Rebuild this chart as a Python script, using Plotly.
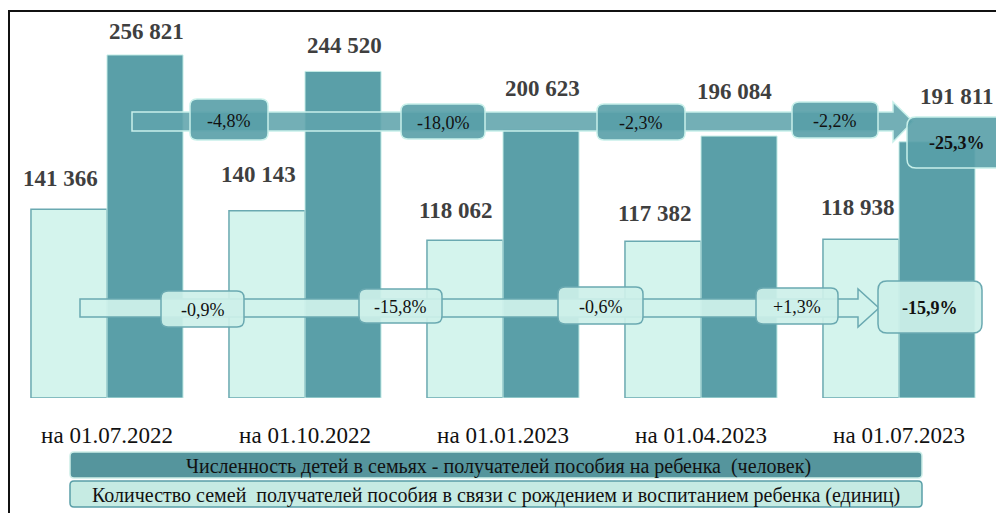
import plotly.graph_objects as go

# ---------------- data ----------------
dates = ["на 01.07.2022", "на 01.10.2022", "на 01.01.2023", "на 01.04.2023", "на 01.07.2023"]
families = [141366, 140143, 118062, 117382, 118938]      # light bars (единиц)
children = [256821, 244520, 200623, 196084, 191811]      # dark bars (человек)
children_changes = ["-4,8%", "-18,0%", "-2,3%", "-2,2%"]
children_total = "-25,3%"
families_changes = ["-0,9%", "-15,8%", "-0,6%", "+1,3%"]
families_total = "-15,9%"
legend_children = "Численность детей в семьях - получателей пособия на ребенка  (человек)"
legend_families = "Количество семей  получателей пособия в связи с рождением и воспитанием ребенка (единиц)"

# ---------------- layout geometry ----------------
OFF = 8                      # page body margin offsets the figure
W, H = 996, 505
ML, MR, MT, MB = 0, 6, 12, 115
PW, PH = W - ML - MR, H - MT - MB
YMAX = 283000

def fmt(v):
    return f"{v:,}".replace(",", " ")

def P(px, py):
    """screen pixel -> paper coords"""
    fx, fy = px - OFF, py - OFF
    return (fx - ML) / PW, (H - MB - fy) / PH

def rrect(x0, y0, x1, y1, r):
    def pt(px, py):
        a, b = P(px, py)
        return f"{a:.5f},{b:.5f}"
    s = f"M {pt(x0 + r, y0)} L {pt(x1 - r, y0)} Q {pt(x1, y0)} {pt(x1, y0 + r)} "
    s += f"L {pt(x1, y1 - r)} Q {pt(x1, y1)} {pt(x1 - r, y1)} "
    s += f"L {pt(x0 + r, y1)} Q {pt(x0, y1)} {pt(x0, y1 - r)} "
    s += f"L {pt(x0, y0 + r)} Q {pt(x0, y0)} {pt(x0 + r, y0)} Z"
    return s

def arrow(x0, ys0, ys1, xh, yh0, yh1, xt):
    def pt(px, py):
        a, b = P(px, py)
        return f"{a:.5f},{b:.5f}"
    ym = (ys0 + ys1) / 2
    return (f"M {pt(x0, ys0)} L {pt(xh, ys0)} L {pt(xh, yh0)} L {pt(xt, ym)} "
            f"L {pt(xh, yh1)} L {pt(xh, ys1)} L {pt(x0, ys1)} Z")

DARK = "#5a9fa8"
LIGHT = "#d4f4ed"
SERIF = "Liberation Serif, Times New Roman, serif"

fig = go.Figure()
xs = list(range(len(dates)))
fig.add_trace(go.Bar(x=xs, y=families, name=legend_families,
                     marker=dict(color=LIGHT, line=dict(color="#6aa9b1", width=1.5))))
fig.add_trace(go.Bar(x=xs, y=children, name=legend_children,
                     marker=dict(color=DARK, line=dict(color="#c4ece6", width=1))))

shapes = []
annotations = []

def txt(px, py, text, size, color="#111"):
    cx, cy = P(px, py)
    annotations.append(dict(x=cx, y=cy, xref="paper", yref="paper", text=text, showarrow=False,
                            xanchor="center", yanchor="middle",
                            font=dict(family=SERIF, size=size, color=color)))

# value labels
light_shift = [31, 36, 30, 28, 32]
light_dx = [-47, -47, -48, -47, -42]
dark_shift = [23, 26, 42, 45, 45]
dark_dx = [39, 39, 39, 33, 57]
for i in xs:
    annotations.append(dict(x=i, y=families[i], xref="x", yref="y", text=f"<b>{fmt(families[i])}</b>",
                            showarrow=False, xanchor="center", yanchor="middle",
                            xshift=light_dx[i], yshift=light_shift[i],
                            font=dict(family=SERIF, size=23, color="#3f3f3f")))
    annotations.append(dict(x=i, y=children[i], xref="x", yref="y", text=f"<b>{fmt(children[i])}</b>",
                            showarrow=False, xanchor="center", yanchor="middle",
                            xshift=dark_dx[i], yshift=dark_shift[i],
                            font=dict(family=SERIF, size=23, color="#3f3f3f")))

# top (children) arrow
shapes.append(dict(type="path", xref="paper", yref="paper", layer="above",
                   path=arrow(132, 112, 131, 893, 102, 142, 913),
                   fillcolor="rgba(96,164,172,0.88)", line=dict(color="#c8f0ea", width=1.5)))
# bottom (families) arrow
shapes.append(dict(type="path", xref="paper", yref="paper", layer="above",
                   path=arrow(80, 299, 317, 858, 289, 327, 879),
                   fillcolor="rgba(208,242,235,0.92)", line=dict(color="#6aa9b1", width=1.5)))

# change boxes
top_boxes = [(190, 99, 268, 140), (401, 104, 485, 139), (597, 104, 685, 140), (792, 102, 878, 138)]
bot_boxes = [(161, 291, 244, 327), (359, 289, 442, 323), (558, 287, 643, 324), (756, 288, 838, 324)]
for (b, t) in zip(top_boxes, children_changes):
    shapes.append(dict(type="path", xref="paper", yref="paper", layer="above", path=rrect(*b, 7),
                       fillcolor="rgba(88,158,167,0.9)", line=dict(color="#c8f0ea", width=1.5)))
    txt((b[0] + b[2]) / 2, (b[1] + b[3]) / 2 + 1, t, 18)
for (b, t) in zip(bot_boxes, families_changes):
    shapes.append(dict(type="path", xref="paper", yref="paper", layer="above", path=rrect(*b, 7),
                       fillcolor="rgba(205,240,233,0.92)", line=dict(color="#6aa9b1", width=1.5)))
    txt((b[0] + b[2]) / 2, (b[1] + b[3]) / 2 + 1, t, 18)

# totals
shapes.append(dict(type="path", xref="paper", yref="paper", layer="above", path=rrect(907, 117, 1016, 168, 9),
                   fillcolor="rgba(88,158,167,0.9)", line=dict(color="#c8f0ea", width=1.5)))
txt(957, 143, f"<b>{children_total}</b>", 18)
shapes.append(dict(type="path", xref="paper", yref="paper", layer="above", path=rrect(878, 281, 982, 333, 9),
                   fillcolor="rgba(205,240,233,0.92)", line=dict(color="#6aa9b1", width=1.5)))
txt(930, 308, f"<b>{families_total}</b>", 18)

# legend boxes
shapes.append(dict(type="path", xref="paper", yref="paper", layer="above", path=rrect(70, 452, 922, 478, 4),
                   fillcolor="#55959d", line=dict(color="#cdeee8", width=1.5)))
shapes.append(dict(type="path", xref="paper", yref="paper", layer="above", path=rrect(70, 481, 922, 507, 4),
                   fillcolor="#c6ebe3", line=dict(color="#5a9fa8", width=1.5)))
txt(498, 466, legend_children, 20)
txt(496, 495, legend_families, 20)

# outer frame
fx0, fy0 = P(9, 11)
fx1, fy1 = P(1012, 522)
shapes.append(dict(type="rect", xref="paper", yref="paper", layer="above",
                   x0=fx0, y0=fy0, x1=fx1, y1=fy1, line=dict(color="#111", width=2)))

fig.update_layout(
    width=W, height=H,
    margin=dict(l=ML, r=MR, t=MT, b=MB, autoexpand=False),
    paper_bgcolor="white", plot_bgcolor="white",
    barmode="group", bargap=0.232, bargroupgap=0,
    showlegend=False,
    xaxis=dict(range=[-0.5, len(dates) - 0.5], tickvals=xs, ticktext=dates,
               showgrid=False, zeroline=False, showline=False, ticks="", automargin=False,
               tickfont=dict(family=SERIF, size=23, color="#111"), ticklabelstandoff=21),
    yaxis=dict(range=[0, YMAX], visible=False, showgrid=False),
    shapes=shapes, annotations=annotations,
)

fig.write_html("out.html")
